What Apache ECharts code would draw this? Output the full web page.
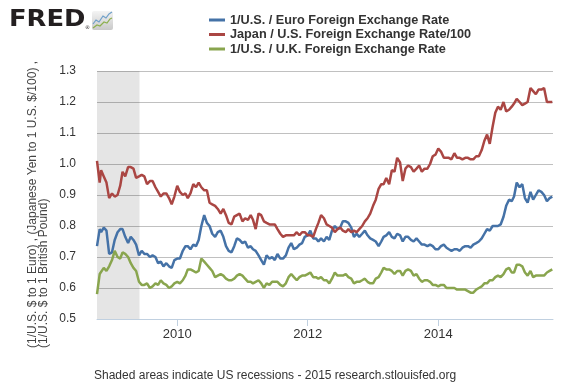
<!DOCTYPE html>
<html><head><meta charset="utf-8">
<script src="https://cdn.jsdelivr.net/npm/echarts@6/dist/echarts.min.js"></script>
<style>html,body{margin:0;padding:0;background:#fff}#c{width:580px;height:385px}</style>
</head><body><div id="c"></div>
<script>
// Dates: semi-monthly observations (1st and 16th of each month)
const startDates = ['2008-10-09', '2008-10-24'];
const endDates = ['2015-10-01'];
const xMin = '2008-10-09';
const xMax = '2015-10-05';
const recession = ['2008-10-09', '2009-06-04'];
const xTickDates = ['2010-01-01', '2012-01-01', '2014-01-01'];
const yTicks = [0.5, 0.6, 0.7, 0.8, 0.9, 1.0, 1.1, 1.2, 1.3];

const seriesNames = [
  '1/U.S. / Euro Foreign Exchange Rate',
  'Japan / U.S. Foreign Exchange Rate/100',
  '1/U.S. / U.K. Foreign Exchange Rate'
];

const euro = [
  0.735, 0.79, 0.78, 0.795, 0.785, 0.71,
  0.715, 0.755, 0.78, 0.79, 0.79, 0.765, 0.745, 0.765, 0.755, 0.74, 0.705, 0.72, 0.71, 0.71, 0.70, 0.705, 0.70, 0.68, 0.685, 0.67, 0.68, 0.67, 0.665, 0.69,
  0.695, 0.695, 0.72, 0.735, 0.735, 0.725, 0.74, 0.735, 0.755, 0.80, 0.835, 0.81, 0.80, 0.775, 0.765, 0.78, 0.785, 0.765, 0.735, 0.72, 0.715, 0.735, 0.76, 0.755,
  0.745, 0.75, 0.73, 0.735, 0.725, 0.72, 0.705, 0.69, 0.675, 0.705, 0.695, 0.70, 0.69, 0.71, 0.695, 0.695, 0.705, 0.73, 0.745, 0.725, 0.73, 0.74, 0.745, 0.765,
  0.77, 0.785, 0.76, 0.76, 0.75, 0.76, 0.75, 0.765, 0.755, 0.785, 0.80, 0.79, 0.795, 0.815, 0.815, 0.81, 0.795, 0.765, 0.775, 0.765, 0.775, 0.785, 0.77, 0.76,
  0.755, 0.75, 0.735, 0.75, 0.765, 0.77, 0.78, 0.765, 0.76, 0.775, 0.77, 0.75, 0.765, 0.765, 0.755, 0.75, 0.76, 0.75, 0.74, 0.74, 0.735, 0.74, 0.735, 0.725,
  0.725, 0.735, 0.74, 0.73, 0.725, 0.72, 0.725, 0.725, 0.72, 0.73, 0.735, 0.735, 0.73, 0.74, 0.745, 0.75, 0.76, 0.775, 0.79, 0.785, 0.80, 0.80, 0.80, 0.805,
  0.83, 0.865, 0.885, 0.88, 0.895, 0.94, 0.925, 0.935, 0.89, 0.875, 0.91, 0.885, 0.90, 0.915, 0.91, 0.90, 0.88, 0.89, 0.895
];

const yen = [
  1.01, 0.94, 0.98, 0.96, 0.94, 0.89,
  0.905, 0.895, 0.90, 0.93, 0.975, 0.96, 0.99, 0.99, 0.985, 0.955, 0.96, 0.965, 0.96, 0.935, 0.945, 0.945, 0.925, 0.91, 0.895, 0.905, 0.905, 0.89, 0.87, 0.895,
  0.93, 0.91, 0.90, 0.905, 0.89, 0.905, 0.935, 0.925, 0.94, 0.925, 0.915, 0.915, 0.875, 0.87, 0.865, 0.855, 0.84, 0.855, 0.835, 0.81, 0.805, 0.83, 0.835, 0.84,
  0.815, 0.825, 0.82, 0.835, 0.82, 0.79, 0.84, 0.835, 0.815, 0.81, 0.805, 0.805, 0.805, 0.79, 0.775, 0.765, 0.77, 0.77, 0.77, 0.77, 0.78, 0.77, 0.78, 0.78,
  0.77, 0.77, 0.765, 0.79, 0.81, 0.835, 0.825, 0.805, 0.80, 0.795, 0.78, 0.79, 0.795, 0.785, 0.78, 0.79, 0.78, 0.785, 0.78, 0.79, 0.80, 0.815, 0.825, 0.84,
  0.865, 0.885, 0.92, 0.935, 0.935, 0.955, 0.935, 0.98, 0.975, 1.02, 1.005, 0.945, 0.985, 0.995, 0.99, 0.975, 0.985, 0.995, 0.975, 0.985, 0.985, 1.00, 1.025, 1.03,
  1.05, 1.04, 1.02, 1.02, 1.02, 1.015, 1.035, 1.02, 1.02, 1.015, 1.02, 1.02, 1.015, 1.015, 1.025, 1.025, 1.045, 1.075, 1.095, 1.065, 1.12, 1.165, 1.185, 1.175,
  1.20, 1.17, 1.175, 1.185, 1.195, 1.21, 1.20, 1.19, 1.195, 1.20, 1.245, 1.235, 1.225, 1.24, 1.24, 1.245, 1.20, 1.20, 1.20
];

const pound = [
  0.58, 0.645, 0.645, 0.665, 0.655, 0.67,
  0.69, 0.72, 0.70, 0.695, 0.715, 0.71, 0.70, 0.68, 0.665, 0.655, 0.62, 0.61, 0.61, 0.615, 0.60, 0.605, 0.615, 0.61, 0.625, 0.615, 0.61, 0.60, 0.605, 0.615,
  0.62, 0.615, 0.625, 0.64, 0.66, 0.66, 0.655, 0.65, 0.655, 0.695, 0.685, 0.675, 0.665, 0.655, 0.635, 0.64, 0.645, 0.64, 0.63, 0.625, 0.625, 0.63, 0.64, 0.645,
  0.64, 0.63, 0.62, 0.62, 0.615, 0.62, 0.625, 0.615, 0.60, 0.615, 0.61, 0.62, 0.62, 0.62, 0.61, 0.605, 0.615, 0.635, 0.645, 0.635, 0.625, 0.635, 0.64, 0.64,
  0.645, 0.65, 0.635, 0.635, 0.63, 0.635, 0.625, 0.625, 0.615, 0.63, 0.65, 0.64, 0.64, 0.64, 0.645, 0.635, 0.63, 0.615, 0.62, 0.62, 0.625, 0.63, 0.62, 0.615,
  0.615, 0.63, 0.635, 0.65, 0.665, 0.66, 0.66, 0.655, 0.645, 0.655, 0.655, 0.64, 0.655, 0.66, 0.655, 0.64, 0.645, 0.63, 0.62, 0.625, 0.625, 0.62, 0.61, 0.61,
  0.605, 0.61, 0.61, 0.60, 0.60, 0.60, 0.60, 0.595, 0.595, 0.595, 0.595, 0.59, 0.585, 0.585, 0.595, 0.60, 0.605, 0.615, 0.615, 0.625, 0.625, 0.635, 0.64, 0.635,
  0.645, 0.66, 0.665, 0.65, 0.65, 0.675, 0.675, 0.67, 0.65, 0.64, 0.655, 0.635, 0.64, 0.64, 0.64, 0.64, 0.65, 0.655, 0.66
];

// build semi-monthly date list
const dates = startDates.slice();
for (let y = 2008; y <= 2015; y++) {
  for (let m = 1; m <= 12; m++) {
    if (y === 2008 && m < 11) continue;
    if (y === 2015 && m > 9) continue;
    const mm = (m < 10 ? '0' : '') + m;
    dates.push(y + '-' + mm + '-01', y + '-' + mm + '-16');
  }
}
endDates.forEach(d => dates.push(d));

const ts = d => +echarts.time.parse(d);
const colors = ['#4572A7', '#AA4643', '#89A54E'];
const pair = arr => dates.map((d, i) => [ts(d), arr[i]]);
const font = '"Liberation Sans", Arial, sans-serif';
const tickValues = xTickDates.map(ts);

const chart = echarts.init(document.getElementById('c'), null, {renderer: 'canvas'});
chart.setOption({
  animation: false,
  color: colors,
  grid: {left: 97, right: 27, top: 71, bottom: 66, containLabel: false},
  legend: {
    orient: 'vertical', left: 209, top: 13, padding: 0, itemWidth: 16, itemHeight: 3, itemGap: 0.5,
    icon: 'rect', data: seriesNames,
    textStyle: {fontFamily: font, fontSize: 12.7, fontWeight: 'bold', color: '#333', lineHeight: 14}
  },
  xAxis: {
    type: 'value', min: ts(xMin), max: ts(xMax),
    axisLine: {lineStyle: {color: '#C0D0E0', width: 1}},
    axisTick: {show: true, length: 7, lineStyle: {color: '#C0D0E0'}, customValues: tickValues},
    axisLabel: {fontFamily: font, fontSize: 13, color: '#333', margin: 9, customValues: tickValues,
      formatter: v => String(new Date(v).getFullYear())},
    splitLine: {show: false}
  },
  yAxis: {
    type: 'value', min: yTicks[0], max: yTicks[yTicks.length - 1], interval: 0.1,
    axisLine: {show: false}, axisTick: {show: false},
    axisLabel: {fontFamily: font, fontSize: 12, color: '#333', margin: 21, formatter: v => v.toFixed(1)},
    splitLine: {lineStyle: {color: '#C0C0C0', width: 1}}
  },
  series: [
    {name: seriesNames[0], type: 'line', data: pair(euro), symbol: 'none', lineStyle: {width: 2.5}, z: 3,
     markArea: {silent: true, itemStyle: {color: 'rgba(0,0,0,0.1)'},
       data: [[{xAxis: ts(recession[0])}, {xAxis: ts(recession[1])}]]}},
    {name: seriesNames[1], type: 'line', data: pair(yen), symbol: 'none', lineStyle: {width: 2.5}, z: 3},
    {name: seriesNames[2], type: 'line', data: pair(pound), symbol: 'none', lineStyle: {width: 2.5}, z: 3}
  ],
  graphic: [
    {type: 'text', left: 9, top: 9, style: {text: 'FRED', font: 'bold 23px "DejaVu Sans", sans-serif', fill: '#231F20'}, scaleX: 1.12},
    {type: 'text', x: 85, y: 25, style: {text: '®', font: '5px "DejaVu Sans"', fill: '#231F20'}},
    {type: 'rect', shape: {x: 92, y: 11, width: 21, height: 19, r: 2},
     style: {fill: new echarts.graphic.LinearGradient(0, 0, 0, 1, [{offset: 0, color: '#F4F4F4'}, {offset: 1, color: '#C9C9C9'}])}},
    {type: 'polyline', shape: {points: [[93, 24], [96, 20], [99, 22], [103, 16], [106, 18], [109, 14], [112, 12]]},
     style: {stroke: '#6E9FC9', lineWidth: 1.2, fill: null}},
    {type: 'polyline', shape: {points: [[93, 28], [97, 25], [100, 26], [104, 22], [107, 23], [110, 19], [112, 18]]},
     style: {stroke: '#8DB04F', lineWidth: 1.2, fill: null}},
    {type: 'text', x: 32.5, y: 348, rotation: Math.PI / 2,
     style: {text: '(1/U.S. $ to 1 Euro) , (Japanese Yen to 1 U.S. $/100) ,', font: '12px ' + font, fill: '#444', align: 'left', verticalAlign: 'middle'}},
    {type: 'text', x: 43.5, y: 348, rotation: Math.PI / 2,
     style: {text: '(1/U.S. $ to 1 British Pound)', font: '12px ' + font, fill: '#444', align: 'left', verticalAlign: 'middle'}},
    {type: 'text', x: 94, y: 376,
     style: {text: 'Shaded areas indicate US recessions - 2015 research.stlouisfed.org', font: '12px ' + font, fill: '#333', align: 'left', verticalAlign: 'middle'}}
  ]
});
</script></body></html>
